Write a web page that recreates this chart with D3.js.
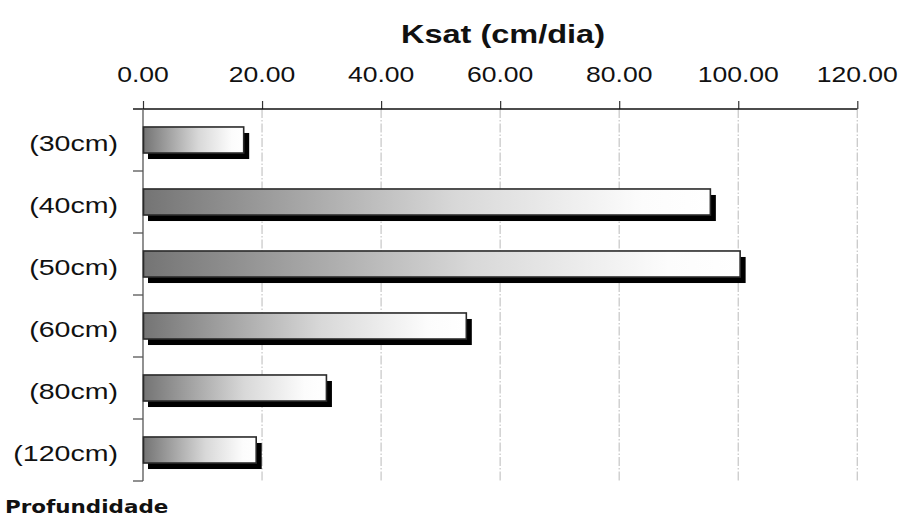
<!DOCTYPE html>
<html>
<head>
<meta charset="utf-8">
<script src="https://cdn.jsdelivr.net/npm/d3@7/dist/d3.min.js"></script>
<style>
  html, body { margin: 0; padding: 0; background: #fff; }
  svg { display: block; }
</style>
</head>
<body>
<svg id="chart" width="901" height="519"></svg>
<script>
// Saturated hydraulic conductivity by soil depth
const depths = ["(30cm)", "(40cm)", "(50cm)", "(60cm)", "(80cm)", "(120cm)"];
const ksat = [17.0, 95.4, 100.4, 54.4, 30.9, 19.1];
const xTicks = [0, 20, 40, 60, 80, 100, 120];
const titleText = "Ksat (cm/dia)";
const yTitleText = "Profundidade";

const svg = d3.select("#chart");
const plotLeft = 143, plotRight = 857.3, plotTop = 109, plotBottom = 481;

const x = d3.scaleLinear().domain([0, 120]).range([plotLeft, plotRight]);
const y = d3.scaleBand().domain(depths).range([plotTop, plotBottom]).paddingInner(0.58).paddingOuter(0.29);

const defs = svg.append("defs");
const grad = defs.append("linearGradient").attr("id", "barFill")
  .attr("x1", "0%").attr("x2", "100%").attr("y1", "0%").attr("y2", "0%");
grad.append("stop").attr("offset", "0%").attr("stop-color", "#747474");
grad.append("stop").attr("offset", "55%").attr("stop-color", "#d8d8d8");
grad.append("stop").attr("offset", "88%").attr("stop-color", "#fcfcfc");
grad.append("stop").attr("offset", "100%").attr("stop-color", "#ffffff");

// vertical dash-dot gridlines
svg.append("g").selectAll("line").data(xTicks.filter(d => d > 0)).join("line")
  .attr("x1", d => x(d)).attr("x2", d => x(d))
  .attr("y1", plotTop).attr("y2", plotBottom)
  .attr("stroke", "#cacaca").attr("stroke-width", 1.3)
  .attr("stroke-dasharray", "9,2,1.5,2");

// top axis
const xAxis = d3.axisTop(x).tickValues(xTicks).tickSize(8).tickPadding(19)
  .tickFormat(d3.format(".2f"));
const gx = svg.append("g").attr("transform", `translate(0,${plotTop})`).call(xAxis);
gx.select(".domain").remove();
gx.selectAll(".tick line").attr("stroke", "#333").attr("stroke-width", 1.2);
gx.selectAll(".tick text").remove();
svg.append("line").attr("x1", plotLeft - 10).attr("x2", plotRight).attr("y1", plotTop).attr("y2", plotTop)
  .attr("stroke", "#111").attr("stroke-width", 1.6);

svg.append("g").selectAll("text").data(xTicks).join("text")
  .attr("transform", d => `translate(${x(d)},82) scale(1.18,1)`)
  .attr("text-anchor", "middle")
  .attr("font-family", "Liberation Sans, Arial, sans-serif")
  .attr("font-size", 22.5).attr("fill", "#111")
  .text(d => d3.format(".2f")(d));

// left axis with band boundary ticks
svg.append("line").attr("x1", plotLeft).attr("x2", plotLeft).attr("y1", plotTop).attr("y2", plotBottom)
  .attr("stroke", "#555").attr("stroke-width", 1.3);
const bounds = d3.range(depths.length + 1).map(i => plotTop + i * (plotBottom - plotTop) / depths.length);
svg.append("g").selectAll("line").data(bounds).join("line")
  .attr("x1", plotLeft - 10).attr("x2", plotLeft).attr("y1", d => d).attr("y2", d => d)
  .attr("stroke", "#555").attr("stroke-width", 1.3);

svg.append("g").selectAll("text").data(depths).join("text")
  .attr("transform", d => `translate(118,${y(d) + y.bandwidth() / 2 + 11}) scale(1.27,1)`)
  .attr("text-anchor", "end")
  .attr("font-family", "Liberation Sans, Arial, sans-serif")
  .attr("font-size", 22.5).attr("fill", "#111")
  .text(d => d);

// bars with drop shadow
const bars = svg.append("g");
bars.selectAll("rect.shadow").data(depths).join("rect").attr("class", "shadow")
  .attr("x", x(0) + 5).attr("y", d => y(d) + 6)
  .attr("width", (d, i) => x(ksat[i]) - x(0)).attr("height", y.bandwidth())
  .attr("fill", "#000");
bars.selectAll("rect.bar").data(depths).join("rect").attr("class", "bar")
  .attr("x", x(0) + 0.5).attr("y", d => y(d))
  .attr("width", (d, i) => x(ksat[i]) - x(0) - 1).attr("height", y.bandwidth())
  .attr("fill", "url(#barFill)").attr("stroke", "#2a2a2a").attr("stroke-width", 1.6);

// titles
svg.append("text")
  .attr("transform", "translate(503,43) scale(1.3,1)")
  .attr("text-anchor", "middle")
  .attr("font-family", "Liberation Sans, Arial, sans-serif")
  .attr("font-size", 25).attr("font-weight", "bold").attr("fill", "#111")
  .text(titleText);

svg.append("text")
  .attr("transform", "translate(5,513) scale(1.16,1)")
  .attr("font-family", "DejaVu Sans, Verdana, sans-serif")
  .attr("font-size", 18.5).attr("font-weight", "bold").attr("fill", "#111")
  .text(yTitleText);
</script>
</body>
</html>
